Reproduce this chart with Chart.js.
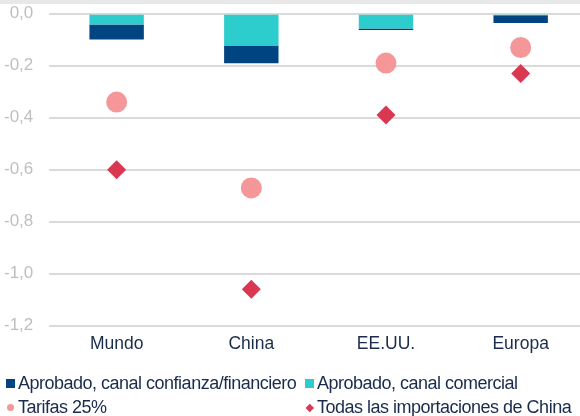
<!DOCTYPE html>
<html>
<head>
<meta charset="utf-8">
<script src="https://cdn.jsdelivr.net/npm/chart.js@4.4.1/dist/chart.umd.min.js"></script>
<style>
  html, body {
    margin: 0;
    padding: 0;
    width: 580px;
    height: 416px;
    overflow: hidden;
    background: #fff;
    font-family: "Liberation Sans", Arial, sans-serif;
  }
  .top-band { position: absolute; left: 0; top: 0; width: 580px; height: 4px; background: #e8e8e8; }
  #chart { position: absolute; left: 0; top: 0; }
  #legend { position: absolute; left: 0; top: 0; width: 580px; height: 416px; pointer-events: none; }
  .item {
    position: absolute;
    display: flex;
    align-items: center;
    height: 22px;
    font-size: 18px;
    letter-spacing: -0.5px;
    color: #1a2b4c;
    white-space: nowrap;
  }
  .mark { width: 9px; height: 9px; margin-right: 3px; flex: none; display: flex; align-items: center; justify-content: center; }
</style>
</head>
<body>
<div class="top-band"></div>
<canvas id="chart" width="588" height="360"></canvas>
<div id="legend"></div>
<script>
// categories and series
const categories = ['Mundo', 'China', 'EE.UU.', 'Europa'];
const canalComercial = [-0.042, -0.122, -0.057, -0.006];
const canalConfianza = [-0.057, -0.069, -0.006, -0.030];
const tarifas25 = [-0.34, -0.67, -0.19, -0.13];
const todasImportaciones = [-0.60, -1.06, -0.39, -0.23];
const yTicks = [0, -0.2, -0.4, -0.6, -0.8, -1.0, -1.2];

const NAVY = '#004481';
const AQUA = '#2DCCCD';
const CORAL = '#F59799';
const RED = '#DA3851';

const fmt = v => v.toFixed(1).replace('.', ',').replace('-0,0', '0,0');

// comercial goes first so it sits next to zero in the stack
const datasets = [
  { type: 'bar', label: 'Aprobado, canal comercial', data: canalComercial, backgroundColor: AQUA, stack: 'aprobado', order: 2 },
  { type: 'bar', label: 'Aprobado, canal confianza/financiero', data: canalConfianza, backgroundColor: NAVY, stack: 'aprobado', order: 2 },
  { type: 'line', label: 'Tarifas 25%', data: tarifas25, showLine: false, stack: 'tarifas', order: 1,
    pointStyle: 'circle', pointRadius: 10.5, backgroundColor: CORAL, borderColor: CORAL, pointBorderWidth: 0 },
  { type: 'line', label: 'Todas las importaciones de China', data: todasImportaciones, showLine: false, stack: 'todas', order: 1,
    pointStyle: 'rectRot', pointRadius: 9.5, backgroundColor: RED, borderColor: RED, pointBorderWidth: 0 }
];

const chart = new Chart(document.getElementById('chart'), {
  data: { labels: categories, datasets },
  options: {
    responsive: false,
    animation: false,
    layout: { autoPadding: false, padding: { top: 13.7, left: 0, right: 0, bottom: 0 } },
    datasets: {
      bar: { barPercentage: 0.404, categoryPercentage: 1 }
    },
    plugins: {
      legend: { display: false },
      tooltip: { enabled: false }
    },
    scales: {
      x: {
        offset: true,
        grid: { display: false, drawTicks: false },
        border: { display: false },
        ticks: {
          color: '#1a2b4c',
          padding: 8,
          font: { family: '"Liberation Sans", Arial, sans-serif', size: 17.5 }
        },
        afterFit: s => { s.height = 34.3; }
      },
      y: {
        stacked: true,
        min: -1.2,
        max: 0,
        afterBuildTicks: s => { s.ticks = yTicks.map(v => ({ value: v })); },
        grid: { color: '#dadada', lineWidth: 2, drawTicks: false },
        border: { display: false },
        ticks: {
          color: '#bfbfbf',
          padding: 16,
          font: { family: '"Liberation Sans", Arial, sans-serif', size: 17 },
          callback: v => fmt(v)
        },
        // fixed gutter; drop the label overhang so only layout padding sets the top
        afterFit: s => {
          s.width = 49.3;
          s.paddingTop = 0;
          s.paddingBottom = 0;
        }
      }
    }
  }
});

// two-column legend built from the datasets
const legendOrder = [
  { ds: 1, left: 6, top: 372.5, shape: 'square' },
  { ds: 0, left: 305, top: 372.5, shape: 'square' },
  { ds: 2, left: 6, top: 396.5, shape: 'circle' },
  { ds: 3, left: 305, top: 396.5, shape: 'diamond' }
];
const legend = document.getElementById('legend');
legendOrder.forEach(entry => {
  const d = chart.data.datasets[entry.ds];
  const item = document.createElement('div');
  item.className = 'item';
  item.style.left = entry.left + 'px';
  item.style.top = entry.top + 'px';
  const mark = document.createElement('span');
  mark.className = 'mark';
  const inner = document.createElement('span');
  inner.style.background = d.backgroundColor;
  if (entry.shape === 'square') {
    inner.style.width = '9px'; inner.style.height = '9px';
  } else if (entry.shape === 'circle') {
    inner.style.width = '7px'; inner.style.height = '7px'; inner.style.borderRadius = '50%';
  } else {
    inner.style.width = '5.5px'; inner.style.height = '5.5px'; inner.style.transform = 'rotate(45deg)';
  }
  mark.appendChild(inner);
  const text = document.createElement('span');
  text.textContent = d.label;
  item.appendChild(mark);
  item.appendChild(text);
  legend.appendChild(item);
});
</script>
</body>
</html>
